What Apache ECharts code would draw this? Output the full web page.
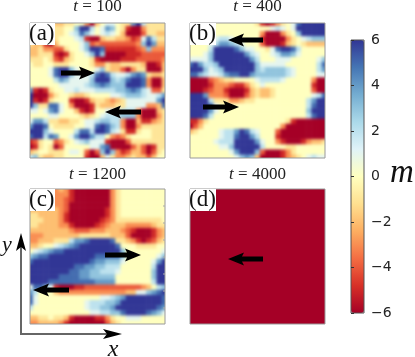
<!DOCTYPE html>
<html>
<head>
<meta charset="utf-8">
<script src="https://cdn.jsdelivr.net/npm/echarts@6/dist/echarts.min.js"></script>
<style>
  html, body { margin: 0; padding: 0; background: #fff; }
  #main { width: 415px; height: 357px; }
  /* the three field maps sit alone on zlevel 0, soften the cell mosaic */
  #main canvas[data-zr-dom-id="zr_0"] { filter: blur(1.6px); }
</style>
</head>
<body>
<div id="main"></div>
<script>
// magnetisation m, one row per line, top row first
const panelA = [
  [0,0,0,0,0,-2,-2,-1,-1,0,0,-3,-6,-2,0,1,1,0,-1,-1,4,6,2,-1,-1,-1,-1],
  [0,0,0,0,0,-1,-1,0,0,3,6,6,2,0,1,4,3,0,-1,-5,-6,-6,-3,-1,-1,-1,-1],
  [0,0,0,0,0,-1,-1,0,1,2,5,3,1,0,1,2,1,0,-2,-6,-6,-6,-4,-1,-1,-2,-2],
  [-1,-1,-1,0,-2,-1,0,0,0,1,2,-5,-6,-6,-2,-1,-1,-2,-2,-3,-5,-4,1,5,2,-1,-1],
  [-1,-2,-2,-5,-6,-2,0,0,0,0,1,3,-4,-3,-4,-4,-4,-4,-4,-4,-4,-3,3,6,4,-2,-2],
  [-2,-2,-1,-3,-3,-4,-4,-1,0,0,1,3,6,6,5,-5,-5,-5,-5,-5,-5,-4,-3,3,-3,-3,-3],
  [-2,-2,-1,-1,-1,-5,-6,-5,-1,0,0,1,3,6,3,-6,-6,-6,-6,-5,-5,-5,-4,-4,-4,-4,-4],
  [-1,-1,-1,0,-1,-4,-5,-2,-1,0,0,0,-1,-5,-6,-6,-6,-6,-5,-5,-5,-4,-4,-4,-4,-4,-3],
  [0,-1,-1,0,0,-1,-1,-1,0,0,0,0,-1,-3,-3,-1,-2,-2,-1,-1,-1,-1,-2,-6,-6,-5,-2],
  [0,0,0,0,1,5,6,6,3,1,0,0,0,1,3,-1,-2,-2,-4,-6,-3,-1,-1,-6,-6,-6,-2],
  [0,0,0,0,1,5,6,6,3,1,1,1,2,5,6,5,2,1,1,2,4,5,4,-1,-2,-2,-1],
  [0,0,0,0,0,2,4,3,1,1,1,1,3,6,6,6,3,2,3,5,6,6,5,-3,-6,-6,-2],
  [0,0,0,0,0,0,1,1,1,1,1,2,3,4,5,4,3,3,3,6,6,6,5,-3,-6,-6,-2],
  [4,-5,-6,-5,-1,0,0,1,1,2,1,1,1,2,2,2,2,3,3,4,5,4,2,1,-4,-4,-1],
  [6,-6,-6,-6,-3,-1,0,0,-1,-2,-2,-1,0,0,0,0,1,1,2,3,3,3,2,1,1,2,4],
  [6,-5,-6,-5,-1,0,0,0,-5,-6,-6,-5,-2,-1,-1,-2,-3,-2,-1,1,1,1,1,1,1,4,6],
  [6,3,-1,-1,5,5,1,0,-3,-6,-6,-6,-5,-1,-2,-2,-2,-1,-1,1,1,1,1,-3,-3,-2,5],
  [1,1,0,1,4,5,1,0,0,-2,-5,-6,-5,0,0,1,1,1,2,2,2,-3,-6,-6,-6,-2,-1],
  [0,0,0,0,1,1,0,0,0,0,-1,-2,-1,0,1,2,2,2,3,3,3,-3,-6,-6,-6,-3,-1],
  [1,4,4,2,-1,-1,-2,-2,-1,-1,0,1,1,2,3,3,2,2,-3,-6,-6,-2,-5,-5,-3,-2,-1],
  [4,6,6,5,0,-1,-1,-1,-1,0,0,1,1,5,6,5,3,2,-3,-6,-6,-3,-1,-1,-1,-1,-1],
  [6,6,6,3,1,0,0,0,0,2,5,5,2,6,6,5,2,1,-1,-5,-5,-1,0,0,-1,-1,-1],
  [5,6,6,2,5,4,0,0,1,4,6,6,4,2,2,0,-3,-4,-3,-1,0,0,0,0,-1,-1,-1],
  [-5,-4,-1,0,0,-4,-3,-1,0,1,2,3,1,1,1,-5,-6,-6,-6,-4,-1,-1,-1,-1,-1,-1,-1],
  [-6,-5,-1,0,-1,-6,-4,0,0,0,0,0,1,1,4,5,-6,-6,-6,-6,-4,-2,-4,-6,-5,-1,-1],
  [-2,-1,0,0,-1,-1,-1,0,1,1,0,-4,-6,-4,3,6,3,-3,-5,-4,-2,-2,-4,-6,-4,-1,0],
  [2,3,-1,-2,-2,-1,-1,0,0,0,0,-5,-6,-6,-2,1,-1,-3,-3,-2,-1,-2,-2,-4,-2,0,0]
];
const panelB = [
  [0,0,0,0,0,0,0,0,0,0,0,0,0,-1,-5,-6,-5,-3,-1,0,1,5,6,6,6,6,6],
  [0,0,0,0,0,0,0,0,0,0,0,0,0,0,0,0,1,2,1,0,1,6,6,6,6,6,6],
  [0,0,0,0,0,0,0,0,0,0,0,0,0,0,-3,-6,-6,-6,-3,-1,0,3,6,6,6,6,6],
  [0,0,0,0,0,1,2,2,1,0,0,0,0,0,-5,-6,-6,-6,-6,-3,-1,0,1,2,3,3,3],
  [0,0,0,0,1,2,4,4,3,2,1,0,0,0,-4,-6,-6,-6,-5,-2,-1,0,-1,-2,-2,-2,-2],
  [0,0,0,0,2,6,6,6,6,5,3,1,1,0,0,-1,1,5,6,6,5,2,0,0,0,0,0],
  [0,0,0,1,3,6,6,6,6,6,6,4,2,1,0,0,1,2,4,4,3,1,0,0,0,0,0],
  [1,1,1,1,3,6,6,6,6,6,6,6,4,2,0,0,0,1,1,1,0,0,0,0,0,1,3],
  [5,6,4,2,2,3,6,6,6,6,6,6,6,3,1,1,1,1,1,0,0,0,0,0,0,2,5],
  [6,6,6,3,1,2,3,6,6,6,6,6,6,3,2,3,3,3,3,2,1,0,0,0,0,2,4],
  [5,5,3,2,1,1,2,4,5,5,6,6,4,3,3,3,3,3,3,2,1,0,0,0,0,1,1],
  [-6,-6,-6,-6,-4,-3,-2,-1,-1,0,0,0,0,1,2,2,2,2,1,0,0,0,0,0,-3,-6,-6],
  [-6,-6,-6,-6,-5,-3,-3,-3,-4,-5,-5,-3,-1,0,1,0,0,0,0,0,0,0,0,0,-5,-6,-6],
  [-6,-6,-6,-5,-4,-3,-3,-5,-6,-6,-6,-5,-2,-1,-2,-2,-1,0,0,0,0,0,0,0,-4,-6,-6],
  [6,6,6,4,-3,-3,-3,-4,-6,-6,-6,-4,-2,-1,-2,-2,-1,0,0,0,0,0,0,0,1,2,5],
  [6,6,6,6,2,-1,-1,-1,-3,-3,-2,-1,-1,0,0,0,0,0,0,0,0,0,0,2,4,6,6],
  [6,6,6,6,5,1,0,0,0,0,0,0,0,0,0,0,0,0,0,0,0,0,0,2,5,6,6],
  [6,6,6,6,4,1,0,0,0,0,0,0,0,0,0,0,0,0,0,0,0,0,0,3,6,6,6],
  [6,6,6,5,2,0,0,0,0,0,0,0,0,0,0,0,0,0,0,0,0,0,0,2,5,6,6],
  [-5,-5,-3,-1,0,0,0,0,0,0,0,0,0,0,0,0,0,0,0,-1,-5,-6,-6,-6,-6,-6,-6],
  [-6,-4,-2,0,0,0,0,0,0,0,0,0,0,0,0,0,0,0,-3,-6,-6,-6,-6,-6,-6,-6,-6],
  [-2,-1,0,0,0,0,1,2,2,4,6,5,2,1,0,0,0,-4,-6,-6,-6,-6,-6,-6,-6,-6,-6],
  [0,0,0,0,0,0,1,2,2,5,6,6,4,2,0,0,0,-5,-6,-6,-6,-6,-6,-6,-6,-6,-6],
  [0,0,0,0,0,1,2,2,2,6,6,6,6,4,1,0,0,-3,-5,-6,-6,-6,-5,-3,-2,-2,-1],
  [0,0,0,0,0,0,1,1,3,6,6,6,6,6,2,0,0,0,0,-1,-1,0,0,0,0,0,0],
  [0,0,0,0,0,0,0,0,1,4,6,6,6,3,-4,-6,-6,-6,-5,-3,-1,0,0,0,0,0,0],
  [0,0,0,0,0,0,0,0,0,1,3,4,3,-2,-6,-6,-6,-6,-5,-3,-2,-1,0,1,2,1,1]
];
const panelC = [
  [-2,-2,-2,-3,-3,-3,-2,-3,-5,-6,-6,-6,-6,-6,-6,-6,-3,-1,0,0,0,0,0,0,0,0,0],
  [-2,-2,-2,-3,-3,-3,-3,-3,-5,-6,-6,-6,-6,-6,-6,-6,-3,-1,0,0,0,0,0,0,0,0,0],
  [-2,-2,-2,-3,-3,-3,-3,-4,-5,-6,-6,-6,-6,-6,-6,-6,-3,-1,0,0,0,0,0,0,0,0,0],
  [-2,-2,-2,-2,-3,-3,-3,-4,-6,-6,-6,-6,-6,-6,-6,-6,-3,-1,0,0,0,0,0,0,0,0,0],
  [-2,-2,-2,-2,-2,-2,-3,-4,-6,-6,-6,-6,-6,-6,-6,-5,-3,-1,0,0,0,0,0,0,0,0,0],
  [-1,-1,-2,-2,-2,-2,-3,-5,-6,-6,-6,-6,-6,-6,-6,-5,-3,-1,0,0,0,0,0,0,0,0,0],
  [-1,-1,-1,-2,-2,-2,-3,-5,-6,-6,-6,-6,-6,-6,-5,-4,-3,-1,-1,-1,-1,-1,-1,-1,-1,-1,0],
  [-1,-1,-2,-2,-2,-2,-3,-3,-5,-6,-6,-6,-6,-5,-4,-3,-2,-2,-2,-3,-3,-3,-3,-3,-2,-1,-1],
  [-2,-2,-2,-2,-2,-2,-2,-2,-3,-4,-4,-4,-3,-3,-3,-2,-2,-2,-3,-4,-5,-6,-6,-6,-5,-3,-2],
  [-3,-3,-3,-2,-2,-2,-2,-2,-2,-2,-1,-1,-1,-1,-1,-1,-2,-2,-2,-4,-6,-6,-6,-6,-5,-3,-2],
  [-3,-3,-2,-2,-2,-1,-1,-1,2,4,4,5,6,6,6,6,5,-1,-1,-2,-3,-5,-6,-5,-4,-2,-1],
  [-2,-2,-1,0,0,1,2,3,4,5,6,6,6,6,6,6,6,5,0,0,0,-1,-1,-1,-1,0,0],
  [0,1,2,3,4,5,5,6,6,6,6,6,6,6,6,6,6,6,3,0,0,0,0,0,0,0,1],
  [3,4,5,5,6,6,6,6,6,6,6,6,6,5,5,5,5,5,3,0,0,0,0,0,0,1,3],
  [5,6,6,6,6,6,6,6,6,6,6,6,5,4,4,3,3,3,1,0,0,0,0,0,1,4,6],
  [6,6,6,6,6,6,6,6,6,5,5,4,4,3,3,2,2,2,0,0,0,0,0,0,2,6,6],
  [6,6,6,6,6,6,6,6,5,5,4,4,3,3,2,2,2,1,0,0,0,0,0,0,3,6,6],
  [6,6,6,6,6,6,5,5,5,5,4,4,3,3,3,3,3,0,0,0,0,0,0,0,3,6,6],
  [6,6,6,6,5,5,5,5,5,5,5,5,5,4,4,4,4,0,0,0,0,0,0,0,2,6,6],
  [1,5,5,3,1,-5,-6,-6,-6,-5,-5,-4,-4,-4,-4,-4,-4,-4,-4,-4,-4,-4,-3,-2,0,2,3],
  [4,2,0,0,0,-2,-3,-3,-3,-3,-3,-3,-3,-3,-3,-3,-3,-3,-3,-2,-2,1,1,3,4,5,6],
  [5,1,0,0,0,0,0,0,0,0,0,0,0,0,1,1,2,3,4,6,6,6,6,6,6,6,5],
  [5,1,0,0,0,0,0,0,0,0,0,1,2,2,2,3,3,4,6,6,6,6,6,6,6,6,5],
  [2,0,0,0,0,0,0,0,0,0,0,1,2,2,3,3,4,6,6,6,6,6,6,6,6,5,4],
  [0,0,0,0,0,0,0,0,0,0,0,0,1,1,2,2,3,3,5,6,6,6,6,5,4,3,1],
  [-2,-2,-1,-1,0,-1,-1,-2,-5,-6,-6,-6,-6,-5,-5,-3,-1,0,0,1,1,1,0,0,0,0,0],
  [-3,-3,-2,-2,-2,-2,-3,-5,-6,-6,-6,-6,-6,-6,-6,-4,-2,-1,0,0,0,0,0,0,0,0,0]
];
const panelD = [[-6]];

const panels = [panelA, panelB, panelC, panelD];
const panelTitles = ['100', '400', '1200', '4000'];
const panelLetters = ['(a)', '(b)', '(c)', '(d)'];
const colorTicks = [-6, -4, -2, 0, 2, 4, 6];
const rdYlBu = ['#a50026', '#d73027', '#f46d43', '#fdae61', '#fee090', '#ffffbf',
  '#e0f3f8', '#abd9e9', '#74add1', '#4575b4', '#313695'];

// pixel boxes of the four maps
const boxes = [
  { left: 30, top: 23 },
  { left: 190, top: 23 },
  { left: 30, top: 189 },
  { left: 190, top: 189 }
];
const size = 135;
const over = 2; // cells run a little past the frame so the blur has no pale rim
const letterW = [25, 26, 25, 26];
const titleY = [7, 7, 175, 175];
const panelCTicks = [206, 223, 240, 257, 274, 291, 308];

let grids = [], xAxes = [], yAxes = [], series = [], graphics = [];

panels.forEach((rows, i) => {
  grids.push({ left: boxes[i].left - over, top: boxes[i].top - over, width: size + 2 * over, height: size + 2 * over });
  xAxes.push({ type: 'category', gridIndex: i, show: false, data: rows[0].map((v, c) => c) });
  yAxes.push({ type: 'category', gridIndex: i, show: false, inverse: true, data: rows.map((v, r) => r) });
  let cells = [];
  rows.forEach((row, r) => row.forEach((v, c) => cells.push([c, r, v])));
  series.push({
    type: 'heatmap', xAxisIndex: i, yAxisIndex: i, data: cells,
    zlevel: i < 3 ? 0 : 1,
    silent: true, animation: false, progressive: 0,
    itemStyle: { borderWidth: 0 }
  });

  // white surround hides what runs past the frame
  graphics.push({
    type: 'rect', zlevel: 1, z: 10,
    shape: { x: boxes[i].left - 5, y: boxes[i].top - 5, width: size + 10, height: size + 10 },
    style: { fill: 'none', stroke: '#fff', lineWidth: 10 }
  });
  graphics.push({
    type: 'rect', zlevel: 1, z: 11,
    shape: { x: boxes[i].left, y: boxes[i].top, width: size, height: size },
    style: { fill: 'none', stroke: '#999', lineWidth: 1 }
  });
  // white tab behind the letter
  graphics.push({
    type: 'rect', zlevel: 1, z: 20,
    shape: { x: boxes[i].left, y: boxes[i].top, width: letterW[i], height: 22 },
    style: { fill: '#fff' }
  });
  graphics.push({
    type: 'text', zlevel: 1, z: 21, x: boxes[i].left - 1, y: boxes[i].top + 11,
    style: { text: panelLetters[i], font: '23px "Liberation Serif"', fill: '#111', verticalAlign: 'middle' }
  });
  graphics.push({
    type: 'text', zlevel: 1, z: 21, x: boxes[i].left + size / 2, y: titleY[i],
    style: {
      text: '{i|t} = ' + panelTitles[i], align: 'center', verticalAlign: 'middle',
      font: '17px "Liberation Serif"', fill: '#222',
      rich: { i: { fontStyle: 'italic', font: 'italic 17px "Liberation Serif"', fill: '#222' } }
    }
  });
});

// colour bar: the visualMap draws the ramp, this grid only gives ticks and frame
grids.push({ left: 351, top: 40, width: 13, height: 273, show: true, borderColor: '#555', borderWidth: 1, z: 6, zlevel: 1, backgroundColor: 'transparent' });
xAxes.push({ type: 'value', gridIndex: 4, show: false, min: 0, max: 1, zlevel: 1 });
yAxes.push({
  type: 'value', gridIndex: 4, position: 'right', min: -6, max: 6, interval: 2, z: 6, zlevel: 1,
  axisLine: { show: false },
  axisTick: { show: true, length: 3, lineStyle: { color: '#333' } },
  splitLine: { show: false },
  axisLabel: {
    margin: 7, fontFamily: 'DejaVu Sans', fontSize: 14, color: '#222',
    formatter: v => colorTicks.includes(v) ? String(v).replace('-', '\u2212') : ''
  }
});

function arrow(x0, x1, y, headLen) {
  let d = x1 > x0 ? 1 : -1;
  let b = x1 - d * headLen;
  return {
    type: 'polygon', zlevel: 1, z: 22,
    shape: { points: [[x0, y - 2.5], [b + d * 2, y - 2.5], [b, y - 6.5], [x1, y], [b, y + 6.5], [b + d * 2, y + 2.5], [x0, y + 2.5]] },
    style: { fill: '#000' }
  };
}

// faint inward ticks on the right edge of panel (c)
panelCTicks.forEach(y => {
  graphics.push({ type: 'line', zlevel: 1, z: 12, shape: { x1: 163, y1: y, x2: 165, y2: y }, style: { stroke: '#aaa', lineWidth: 1 } });
});

graphics.push(
  arrow(61, 95, 73, 16),
  arrow(141, 105, 112, 16),
  arrow(263, 228, 40, 16),
  arrow(203, 239, 107, 16),
  arrow(105, 141, 255, 16),
  arrow(69, 33, 290, 16),
  arrow(263, 228, 259, 16),
  // x / y axis arrows
  { type: 'line', zlevel: 1, z: 22, shape: { x1: 21, y1: 334, x2: 21, y2: 245 }, style: { stroke: '#666', lineWidth: 2 } },
  { type: 'line', zlevel: 1, z: 22, shape: { x1: 20, y1: 334, x2: 110, y2: 334 }, style: { stroke: '#666', lineWidth: 2 } },
  { type: 'polygon', zlevel: 1, z: 23, shape: { points: [[21, 233], [26, 251], [21, 247], [16, 251]] }, style: { fill: '#000' } },
  { type: 'polygon', zlevel: 1, z: 23, shape: { points: [[122, 334], [103, 329], [107, 334], [103, 339]] }, style: { fill: '#000' } },
  { type: 'text', zlevel: 1, z: 22, x: 7, y: 245, style: { text: 'y', font: 'italic 22px "Liberation Serif"', fill: '#111', align: 'center', verticalAlign: 'middle' } },
  { type: 'text', zlevel: 1, z: 22, x: 113, y: 350, style: { text: 'x', font: 'italic 24px "Liberation Serif"', fill: '#111', align: 'center', verticalAlign: 'middle' } },
  { type: 'text', zlevel: 1, z: 22, x: 402, y: 173, style: { text: 'm', font: 'italic 33px "Liberation Serif"', fill: '#111', align: 'center', verticalAlign: 'middle' } }
);

let myChart = echarts.init(document.getElementById('main'), null, { renderer: 'canvas' });
let option = {
  animation: false,
  backgroundColor: '#fff',
  visualMap: {
    type: 'continuous', min: -6, max: 6, seriesIndex: [0, 1, 2, 3],
    left: 351, top: 40, itemWidth: 13, itemHeight: 273, padding: 0, zlevel: 1,
    calculable: false, hoverLink: false, realtime: false,
    inRange: { color: rdYlBu },
    textStyle: { color: 'transparent' }
  },
  grid: grids,
  xAxis: xAxes,
  yAxis: yAxes,
  series: series,
  graphic: graphics
};
option && myChart.setOption(option);
</script>
</body>
</html>
